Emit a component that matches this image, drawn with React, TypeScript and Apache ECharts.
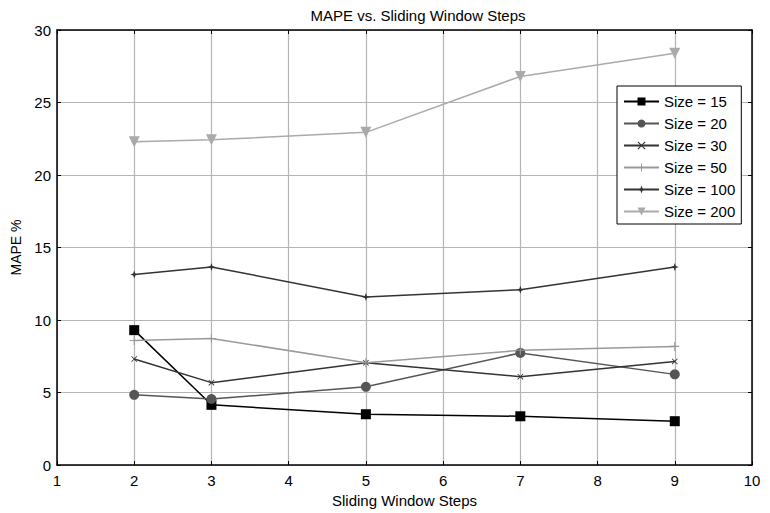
import React, { useEffect, useRef } from "react";
import * as echarts from "echarts";

const steps = [2, 3, 5, 7, 9];
const seriesNames = ["Size = 15", "Size = 20", "Size = 30", "Size = 50", "Size = 100", "Size = 200"];
const size15 = [9.3, 4.15, 3.5, 3.36, 3.02];
const size20 = [4.84, 4.55, 5.39, 7.73, 6.25];
const size30 = [7.31, 5.68, 7.05, 6.09, 7.14];
const size50 = [8.59, 8.73, 7.05, 7.91, 8.18];
const size100 = [13.14, 13.66, 11.59, 12.09, 13.66];
const size200 = [22.29, 22.43, 22.94, 26.8, 28.4];
const xTicks = [1, 2, 3, 4, 5, 6, 7, 8, 9, 10];
const yTicks = [0, 5, 10, 15, 20, 25, 30];

const FONT = "Arial, 'Liberation Sans', Helvetica, sans-serif";

const plusPath =
  "path://M-0.6,-5L0.6,-5L0.6,-0.6L5,-0.6L5,0.6L0.6,0.6L0.6,5L-0.6,5L-0.6,0.6L-5,0.6L-5,-0.6L-0.6,-0.6Z";
const xPath =
  "path://M-4,-3.2L-3.2,-4L0,-0.8L3.2,-4L4,-3.2L0.8,0L4,3.2L3.2,4L0,0.8L-3.2,4L-4,3.2L-0.8,0Z";
const starPath = "path://M0,-5L1.3,-1.3L5,0L1.3,1.3L0,5L-1.3,1.3L-5,0L-1.3,-1.3Z";

export default function App() {
  const ref = useRef<HTMLDivElement>(null);
  useEffect(() => {
    if (!ref.current) return;
    const chart = echarts.init(ref.current, undefined, { renderer: "svg" });
    const pair = (vals: number[]) => steps.map((s, i) => [s, vals[i]]);
    const mk = (
      name: string,
      vals: number[],
      color: string,
      symbol: string,
      symbolSize: number,
      rotate = 0
    ) => ({
      name,
      type: "line",
      data: pair(vals),
      symbol,
      symbolSize,
      symbolRotate: rotate,
      showAllSymbol: true,
      lineStyle: { color, width: 1.5 },
      itemStyle: { color, borderColor: color, borderWidth: 0 },
      emphasis: { disabled: true },
      z: 3,
    });
    const option: any = {
      animation: false,
      backgroundColor: "#ffffff",
      title: {
        text: "MAPE vs. Sliding Window Steps",
        left: 413,
        top: 3,
        textAlign: "center",
        textStyle: { fontFamily: FONT, fontSize: 15, fontWeight: "normal", color: "#000" },
      },
      grid: { left: 57, right: 18, top: 30, bottom: 43, containLabel: false },
      legend: {
        orient: "vertical",
        left: 617,
        top: 86,
        width: 132,
        padding: [8, 6, 5, 6],
        itemGap: 7,
        itemWidth: 35,
        itemHeight: 10,
        backgroundColor: "#ffffff",
        borderColor: "#000000",
        borderWidth: 1,
        data: seriesNames,
        textStyle: { fontFamily: FONT, fontSize: 15, color: "#000", padding: [0, 0, 0, 0] },
      },
      xAxis: [
        {
          type: "value",
          min: 1,
          max: 10,
          interval: 1,
          name: "Sliding Window Steps",
          nameLocation: "middle",
          nameGap: 28,
          nameTextStyle: { fontFamily: FONT, fontSize: 15, color: "#000" },
          axisLine: { onZero: false, lineStyle: { color: "#000", width: 1.5 } },
          axisTick: { inside: true, length: 4, lineStyle: { color: "#000" } },
          axisLabel: {
            fontFamily: FONT,
            fontSize: 15,
            color: "#000",
            margin: 8,
            formatter: (v: number) => (xTicks.includes(v) ? String(v) : ""),
          },
          splitLine: { show: true, lineStyle: { color: "#b4b4b4", width: 1.2 } },
        },
        {
          type: "value",
          position: "top",
          min: 1,
          max: 10,
          interval: 1,
          axisLine: { onZero: false, lineStyle: { color: "#000", width: 1.5 } },
          axisTick: { inside: true, length: 4, lineStyle: { color: "#000" } },
          axisLabel: { show: false },
          splitLine: { show: false },
        },
      ],
      yAxis: [
        {
          type: "value",
          min: 0,
          max: 30,
          interval: 5,
          name: "MAPE %",
          nameLocation: "middle",
          nameGap: 31,
          nameTextStyle: { fontFamily: FONT, fontSize: 14, color: "#000" },
          axisLine: { onZero: false, lineStyle: { color: "#000", width: 1.5 } },
          axisTick: { inside: true, length: 4, lineStyle: { color: "#000" } },
          axisLabel: {
            fontFamily: FONT,
            fontSize: 15,
            color: "#000",
            margin: 6,
            formatter: (v: number) => (yTicks.includes(v) ? String(v) : ""),
          },
          splitLine: { show: true, lineStyle: { color: "#b4b4b4", width: 1.2 } },
        },
        {
          type: "value",
          position: "right",
          min: 0,
          max: 30,
          interval: 5,
          axisLine: { onZero: false, lineStyle: { color: "#000", width: 1.5 } },
          axisTick: { inside: true, length: 4, lineStyle: { color: "#000" } },
          axisLabel: { show: false },
          splitLine: { show: false },
        },
      ],
      series: [
        mk(seriesNames[0], size15, "#000000", "rect", 10),
        mk(seriesNames[1], size20, "#555555", "circle", 10),
        mk(seriesNames[2], size30, "#333333", xPath, 6),
        mk(seriesNames[3], size50, "#999999", plusPath, 9),
        mk(seriesNames[4], size100, "#333333", starPath, 8),
        mk(seriesNames[5], size200, "#aaaaaa", "triangle", 11, 180),
      ],
    };
    chart.setOption(option);
    return () => chart.dispose();
  }, []);
  return (
    <div
      ref={ref}
      style={{ position: "fixed", left: 0, top: 0, width: 770, height: 513, background: "#fff" }}
    />
  );
}
